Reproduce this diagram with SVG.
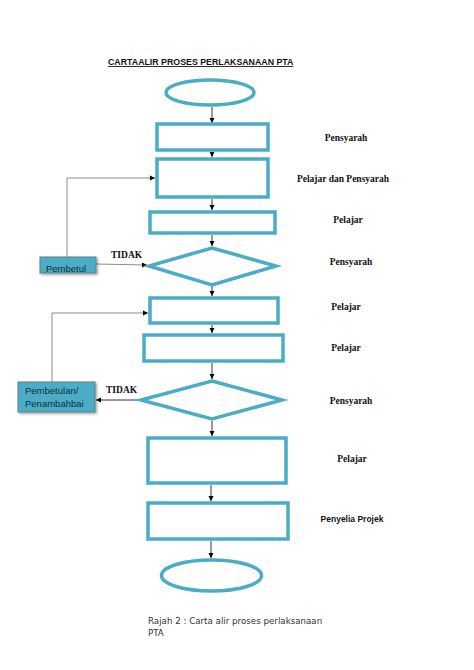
<svg xmlns="http://www.w3.org/2000/svg" width="474" height="670" viewBox="0 0 474 670">
<style>
.shape{fill:#fff;stroke:#4BACC6;stroke-width:3.5}
.con{fill:none;stroke:#000;stroke-width:0.8}
.fb{fill:none;stroke:#7f7f7f;stroke-width:0.9}
.role{font-family:"Liberation Serif",serif;font-weight:bold;font-size:9.5px;fill:#111;text-anchor:middle}
.box{fill:#4BACC6;stroke:#5a7f8c;stroke-width:1}
.boxt{font-family:"Liberation Sans",sans-serif;font-size:9.5px;fill:#10303c}
</style>
<defs>
<marker id="ah" markerWidth="6" markerHeight="6" refX="5" refY="3" orient="auto" markerUnits="userSpaceOnUse">
<path d="M0,0.5 L5,3 L0,5.5 Z" fill="#000"/>
</marker>
<filter id="sh" x="-20%" y="-20%" width="150%" height="160%">
<feDropShadow dx="1.5" dy="1.5" stdDeviation="0.8" flood-color="#000" flood-opacity="0.35"/>
</filter>
<clipPath id="clp"><rect x="40" y="257" width="56" height="16"/></clipPath>
</defs>
<rect width="474" height="670" fill="#fff"/>
<text x="108" y="65" font-family="Liberation Sans,sans-serif" font-weight="bold" font-size="8.8" fill="#111" text-decoration="underline">CARTAALIR PROSES PERLAKSANAAN PTA</text>

<g id="connectors">
<line class="con" x1="212" y1="107" x2="212" y2="123" marker-end="url(#ah)"/>
<line class="con" x1="212" y1="152" x2="212" y2="157" marker-end="url(#ah)"/>
<line class="con" x1="212" y1="199" x2="212" y2="210" marker-end="url(#ah)"/>
<line class="con" x1="212" y1="235" x2="212" y2="246" marker-end="url(#ah)"/>
<line class="con" x1="212" y1="286" x2="212" y2="296" marker-end="url(#ah)"/>
<line class="con" x1="212" y1="325" x2="212" y2="333" marker-end="url(#ah)"/>
<line class="con" x1="212" y1="363" x2="212" y2="379" marker-end="url(#ah)"/>
<line class="con" x1="212" y1="421" x2="212" y2="436" marker-end="url(#ah)"/>
<line class="con" x1="211" y1="485" x2="211" y2="501" marker-end="url(#ah)"/>
<line class="con" x1="211" y1="541" x2="211" y2="558" marker-end="url(#ah)"/>
<polyline class="fb" points="67,257 67,178 155,178" marker-end="url(#ah)"/>
<line class="fb" x1="96" y1="264" x2="147" y2="265" marker-end="url(#ah)"/>
<polyline class="fb" points="52,382 52,313 148,313" marker-end="url(#ah)"/>
<line class="con" x1="139" y1="400" x2="96" y2="400" marker-end="url(#ah)"/>
</g>

<g id="start"><ellipse class="shape" cx="210" cy="92.5" rx="44" ry="12.5"/></g>
<g id="step1"><rect class="shape" x="157" y="124" width="111" height="26"/></g>
<g id="step2"><rect class="shape" x="157" y="159" width="111" height="38"/></g>
<g id="step3"><rect class="shape" x="150" y="212" width="125" height="21"/></g>
<g id="decision1"><polygon class="shape" points="212,248 276,266 212,285 149,266"/></g>
<g id="step4"><rect class="shape" x="150" y="298" width="128" height="25"/></g>
<g id="step5"><rect class="shape" x="144" y="335" width="139" height="26"/></g>
<g id="decision2"><polygon class="shape" points="212,381 282,400 212,419 141,400"/></g>
<g id="step6"><rect class="shape" x="148" y="438" width="138" height="45"/></g>
<g id="step7"><rect class="shape" x="148" y="503" width="140" height="36"/></g>
<g id="end"><ellipse class="shape" cx="211.5" cy="575.5" rx="50" ry="15.5"/></g>

<g id="pembetul">
<rect class="box" x="40" y="257" width="56" height="16" filter="url(#sh)"/>
<text class="boxt" x="46" y="272" clip-path="url(#clp)">Pembetul</text>
</g>
<g id="pembetulan">
<rect class="box" x="18" y="382" width="77" height="30" filter="url(#sh)"/>
<text class="boxt" x="25" y="394">Pembetulan/</text>
<text class="boxt" x="25" y="407">Penambahbai</text>
</g>

<g id="labels">
<text x="111" y="258" font-family="Liberation Serif,serif" font-weight="bold" font-size="9.5" fill="#111">TIDAK</text>
<text x="106" y="393" font-family="Liberation Serif,serif" font-weight="bold" font-size="9.5" fill="#111">TIDAK</text>
<text class="role" x="346" y="141">Pensyarah</text>
<text class="role" x="343" y="182">Pelajar dan Pensyarah</text>
<text class="role" x="348" y="223">Pelajar</text>
<text class="role" x="351" y="265">Pensyarah</text>
<text class="role" x="346" y="310">Pelajar</text>
<text class="role" x="346" y="351">Pelajar</text>
<text class="role" x="351" y="404">Pensyarah</text>
<text class="role" x="352" y="462">Pelajar</text>
<text x="352" y="522" font-family="Liberation Sans,sans-serif" font-weight="bold" font-size="8.5" fill="#111" text-anchor="middle">Penyelia Projek</text>
</g>

<text x="148" y="624" font-family="DejaVu Sans,sans-serif" font-size="8.7" fill="#333">Rajah 2 : Carta alir proses perlaksanaan</text>
<text x="148" y="636" font-family="DejaVu Sans,sans-serif" font-size="8.7" fill="#333">PTA</text>
</svg>
